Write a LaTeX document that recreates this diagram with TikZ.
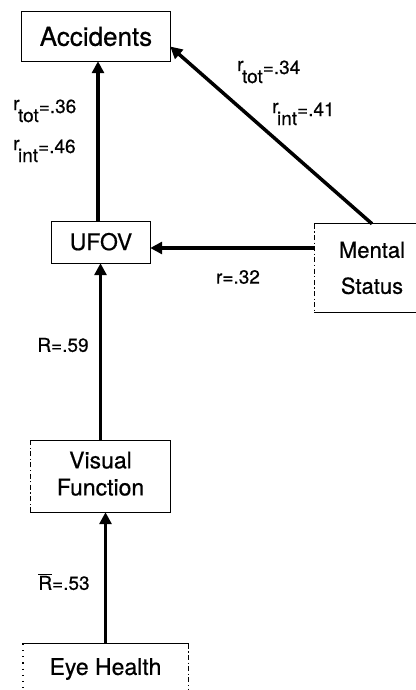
\documentclass[tikz,border=0pt]{standalone}
\usepackage{fontspec}
\setmainfont{TeX Gyre Heros}[FakeBold=0.6]
\usetikzlibrary{arrows.meta}
\newcommand{\rlbl}[2]{\raisebox{12pt}{r}\kern-1.5pt#1\raisebox{9pt}{=#2}}
\begin{document}
\begin{tikzpicture}[x=1pt,y=-1pt,
  box/.style={draw=none, inner sep=0pt, align=center},
  edge/.style={line width=1.3pt, line cap=rect},
  dedge/.style={line width=1.2pt, dash pattern=on 5pt off 2.5pt on 1.2pt off 2.5pt},
  dotedge/.style={line width=1.4pt, dash pattern=on 1.2pt off 5pt},
  arr/.style={line width=3.5pt, -{Triangle[length=12pt,width=12pt]}},
  lab/.style={inner sep=0pt, font=\fontsize{19}{21}\selectfont}]
\useasboundingbox (0,0) rectangle (415,690);

% nodes
\node[box, minimum width=148pt, minimum height=49pt, font=\fontsize{26}{30}\selectfont] (acc) at (96,36.5) {Accidents};
\node[box, minimum width=98pt, minimum height=41pt, font=\fontsize{23}{27}\selectfont] (ufov) at (101,242.5) {\raisebox{2pt}{UFOV}};
\node[box, minimum width=114pt, minimum height=88pt, font=\fontsize{22}{36}\selectfont] (ms) at (372,268) {Mental\\Status};
\node[box, minimum width=139pt, minimum height=71pt, font=\fontsize{23}{27}\selectfont] (vf) at (100.5,476.5) {\raisebox{3pt}{\begin{tabular}{@{}c@{}}Visual\\Function\end{tabular}}};
\node[box, minimum width=165pt, minimum height=51pt, font=\fontsize{23}{27}\selectfont] (eh) at (105.5,669.5) {\raisebox{6pt}{Eye Health}};

% borders
\draw[edge] (acc.north west) rectangle (acc.south east);
\draw[edge] (ufov.north west) rectangle (ufov.south east);
\draw[edge] (ms.north east) -- (ms.north west);
\draw[dedge] (ms.north west) -- (ms.south west);
\draw[edge] (ms.south west) -- (ms.south east);
\draw[edge] (vf.north west) -- (vf.north east) -- (vf.south east) -- (vf.south west);
\draw[dedge] (vf.south west) -- (vf.north west);
\draw[edge] (eh.north west) -- (eh.north east);
\draw[dedge] (eh.north east) -- (eh.south east);
\draw[dotedge] (eh.north west) -- (eh.south west);

% connectors
\coordinate (yms) at (0,248);
\draw[arr] (eh.north) -- (eh.north |- vf.south);
\draw[arr] (vf.north) -- (vf.north |- ufov.south);
\draw[arr] ([xshift=-3pt]ufov.north) -- ([xshift=-3pt]ufov.north |- acc.south);
\draw[arr] (ms.west |- yms) -- (ufov.east |- yms);
\draw[arr] (ms.north) -- ([yshift=-10pt]acc.east);

% labels
\node[lab, anchor=base west] (l1) at (13,122) {\rlbl{tot}{.36}};
\node[lab, anchor=base west] (l2) at (13,162) {\rlbl{int}{.46}};
\node[lab, anchor=base west] (l3) at (237,83) {\rlbl{tot}{.34}};
\node[lab, anchor=base west] (l4) at (272,125) {\rlbl{int}{.41}};
\node[lab] (l5) at (238,277) {r=.32};
\node[lab] (l6) at (63,345) {R=.59};
\node[lab] (l7) at (64,582) {$\overline{\mbox{R}}$=.53};
\end{tikzpicture}
\end{document}
